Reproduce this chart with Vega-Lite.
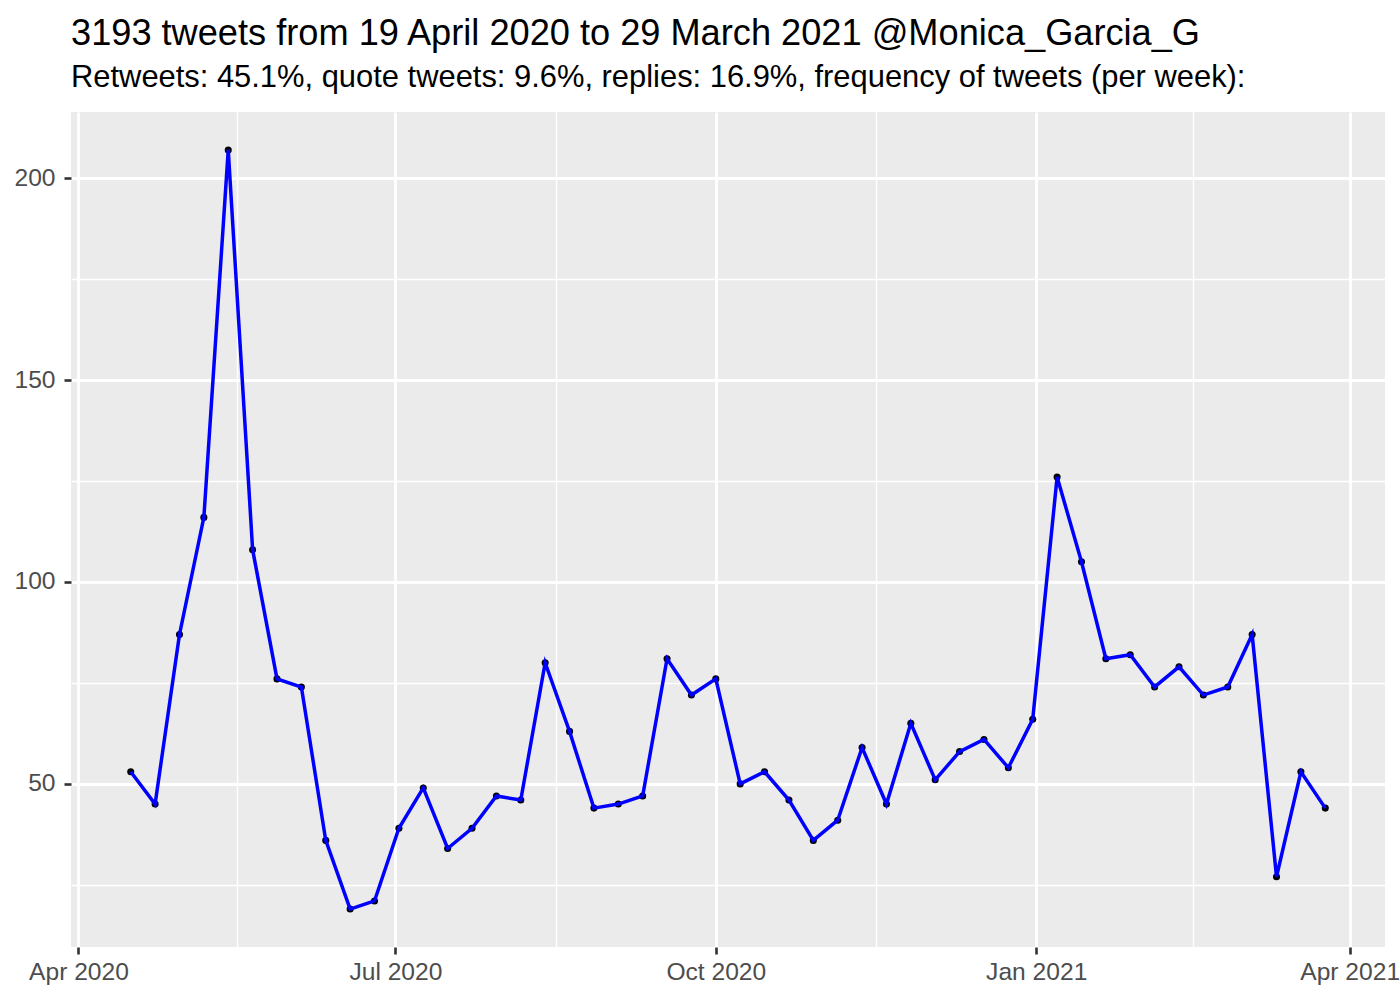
{
  "$schema": "https://vega.github.io/schema/vega-lite/v6.json",
  "width": 1314,
  "height": 835,
  "autosize": {"type": "none"},
  "padding": {"left": 71, "top": 112, "right": 15, "bottom": 53},
  "background": "white",
  "title": {
    "text": "3193 tweets from 19 April 2020 to 29 March 2021 @Monica_Garcia_G",
    "subtitle": "Retweets: 45.1%, quote tweets: 9.6%, replies: 16.9%, frequency of tweets (per week):",
    "anchor": "start",
    "frame": "group",
    "font": "Liberation Sans",
    "fontSize": 36.2,
    "fontWeight": "normal",
    "color": "black",
    "subtitleFont": "Liberation Sans",
    "subtitleFontSize": 30.9,
    "subtitleColor": "black",
    "subtitlePadding": 11,
    "offset": 19
  },
  "config": {"view": {"fill": "#EBEBEB", "stroke": null}},
  "data": {"values": [
    {"date": "2020-04-16T00:00", "n": 53},
    {"date": "2020-04-23T00:00", "n": 45},
    {"date": "2020-04-30T00:00", "n": 87},
    {"date": "2020-05-07T00:00", "n": 116},
    {"date": "2020-05-14T00:00", "n": 207},
    {"date": "2020-05-21T00:00", "n": 108},
    {"date": "2020-05-28T00:00", "n": 76},
    {"date": "2020-06-04T00:00", "n": 74},
    {"date": "2020-06-11T00:00", "n": 36},
    {"date": "2020-06-18T00:00", "n": 19},
    {"date": "2020-06-25T00:00", "n": 21},
    {"date": "2020-07-02T00:00", "n": 39},
    {"date": "2020-07-09T00:00", "n": 49},
    {"date": "2020-07-16T00:00", "n": 34},
    {"date": "2020-07-23T00:00", "n": 39},
    {"date": "2020-07-30T00:00", "n": 47},
    {"date": "2020-08-06T00:00", "n": 46},
    {"date": "2020-08-13T00:00", "n": 80},
    {"date": "2020-08-20T00:00", "n": 63},
    {"date": "2020-08-27T00:00", "n": 44},
    {"date": "2020-09-03T00:00", "n": 45},
    {"date": "2020-09-10T00:00", "n": 47},
    {"date": "2020-09-17T00:00", "n": 81},
    {"date": "2020-09-24T00:00", "n": 72},
    {"date": "2020-10-01T00:00", "n": 76},
    {"date": "2020-10-08T00:00", "n": 50},
    {"date": "2020-10-15T00:00", "n": 53},
    {"date": "2020-10-22T00:00", "n": 46},
    {"date": "2020-10-29T00:00", "n": 36},
    {"date": "2020-11-05T00:00", "n": 41},
    {"date": "2020-11-12T00:00", "n": 59},
    {"date": "2020-11-19T00:00", "n": 45},
    {"date": "2020-11-26T00:00", "n": 65},
    {"date": "2020-12-03T00:00", "n": 51},
    {"date": "2020-12-10T00:00", "n": 58},
    {"date": "2020-12-17T00:00", "n": 61},
    {"date": "2020-12-24T00:00", "n": 54},
    {"date": "2020-12-31T00:00", "n": 66},
    {"date": "2021-01-07T00:00", "n": 126},
    {"date": "2021-01-14T00:00", "n": 105},
    {"date": "2021-01-21T00:00", "n": 81},
    {"date": "2021-01-28T00:00", "n": 82},
    {"date": "2021-02-04T00:00", "n": 74},
    {"date": "2021-02-11T00:00", "n": 79},
    {"date": "2021-02-18T00:00", "n": 72},
    {"date": "2021-02-25T00:00", "n": 74},
    {"date": "2021-03-04T00:00", "n": 87},
    {"date": "2021-03-11T00:00", "n": 27},
    {"date": "2021-03-18T00:00", "n": 53},
    {"date": "2021-03-25T00:00", "n": 44}
  ]},
  "encoding": {
    "x": {
      "field": "date",
      "type": "temporal",
      "scale": {"domain": [
        {"year": 2020, "month": 3, "date": 29, "hours": 20, "minutes": 24},
        {"year": 2021, "month": 4, "date": 11, "hours": 3, "minutes": 36}
      ]},
      "axis": {
        "title": null,
        "values": [
          {"year": 2020, "month": 4, "date": 1},
          {"year": 2020, "month": 5, "date": 16, "hours": 12},
          {"year": 2020, "month": 7, "date": 1},
          {"year": 2020, "month": 8, "date": 16},
          {"year": 2020, "month": 10, "date": 1},
          {"year": 2020, "month": 11, "date": 16},
          {"year": 2021, "month": 1, "date": 1},
          {"year": 2021, "month": 2, "date": 15},
          {"year": 2021, "month": 4, "date": 1}
        ],
        "labelExpr": "date(datum.value) === 1 ? timeFormat(datum.value, '%b %Y') : ''",
        "domain": false,
        "grid": true,
        "gridColor": "white",
        "gridWidth": {"condition": {"test": "date(datum.value) === 1", "value": 2.8}, "value": 1.4},
        "tickColor": "#333333",
        "tickSize": 7,
        "tickWidth": 2.6,
        "tickOpacity": {"condition": {"test": "date(datum.value) === 1", "value": 1}, "value": 0},
        "labelFont": "Liberation Sans",
        "labelFontSize": 24.6,
        "labelColor": "#4D4D4D",
        "labelPadding": 6,
        "labelFlush": false,
        "labelOverlap": false
      }
    },
    "y": {
      "field": "n",
      "type": "quantitative",
      "scale": {"domain": [9.6, 216.4], "nice": false, "zero": false},
      "axis": {
        "title": null,
        "values": [25, 50, 75, 100, 125, 150, 175, 200],
        "labelExpr": "datum.value % 50 === 0 ? datum.label : ''",
        "domain": false,
        "grid": true,
        "gridColor": "white",
        "gridWidth": {"condition": {"test": "datum.value % 50 === 0", "value": 2.8}, "value": 1.4},
        "tickColor": "#333333",
        "tickSize": 7,
        "tickWidth": 2.6,
        "tickOpacity": {"condition": {"test": "datum.value % 50 === 0", "value": 1}, "value": 0},
        "labelFont": "Liberation Sans",
        "labelFontSize": 24.6,
        "labelColor": "#4D4D4D",
        "labelPadding": 9,
        "labelOverlap": false
      }
    }
  },
  "layer": [
    {"mark": {"type": "point", "filled": true, "color": "black", "size": 50, "opacity": 1}},
    {"mark": {"type": "line", "color": "#0000FF", "strokeWidth": 3.5}}
  ]
}
